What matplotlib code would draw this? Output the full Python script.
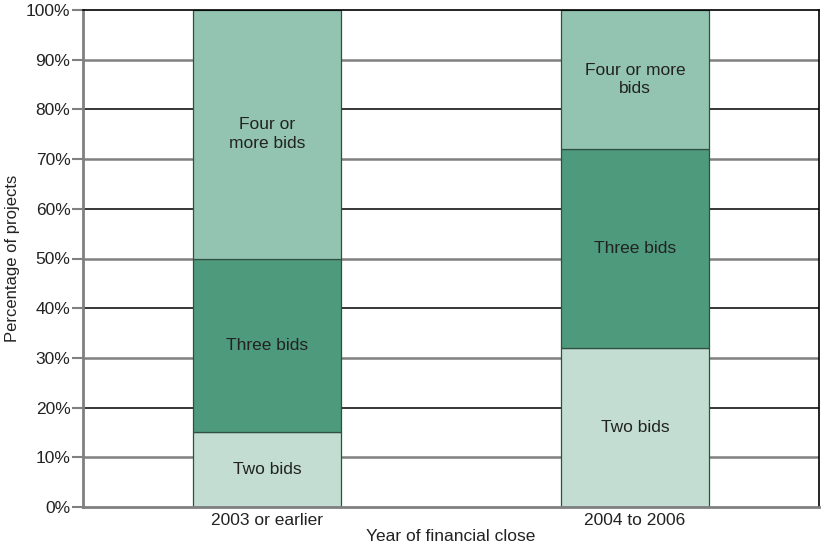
import numpy as np
import matplotlib.pyplot as plt

plt.rcParams['font.family'] = ['Liberation Sans', 'DejaVu Sans']

periods = ['2003 or earlier', '2004 to 2006']
two_bids = [15, 32]
three_bids = [35, 40]
four_bids = [50, 28]
labels = ['Two bids', 'Three bids', 'Four or\nmore bids']
labels_right = ['Two bids', 'Three bids', 'Four or more\nbids']
colors = ['#c3ddd3', '#4e9a7c', '#93c4b1']

fig = plt.figure(figsize=(8.27, 5.46), dpi=100)
ax = fig.add_axes([83 / 827, 1 - 507 / 546, 736 / 827, 497 / 546])

x = np.arange(len(periods))
bottom = np.zeros(len(periods))
series = [two_bids, three_bids, four_bids]

# gridlines alternate black / grey
for v in range(10, 100, 10):
    if v % 20 == 0:
        ax.axhline(v, color='black', lw=1.1, zorder=0)
    else:
        ax.axhline(v, color='#808080', lw=1.8, zorder=0)

for i, vals in enumerate(series):
    vals = np.array(vals)
    ax.bar(x, vals, 0.4, bottom=bottom, color=colors[i], edgecolor='#2f4f43',
           linewidth=0.9, zorder=2)
    for j in range(len(periods)):
        txt = labels[i] if j == 0 else labels_right[i]
        ax.text(x[j], bottom[j] + vals[j] / 2, txt, ha='center', va='center',
                fontsize=12.5, color='#222222', linespacing=1.3, zorder=3)
    bottom += vals

ax.set_xlim(-0.5, 1.5)
ax.set_ylim(0, 100)
ax.set_yticks(range(0, 101, 10))
ax.set_yticklabels([f'{v}%' for v in range(0, 101, 10)], fontsize=12.5, color='#222222')
ax.set_xticks(x)
ax.set_xticklabels(periods, fontsize=12.5, color='#222222')
ax.tick_params(axis='y', length=8, width=1.5, color='#808080', pad=1)
ax.tick_params(axis='x', length=0, pad=4)

ax.spines['left'].set_color('#808080')
ax.spines['left'].set_linewidth(2)
ax.spines['bottom'].set_color('#808080')
ax.spines['bottom'].set_linewidth(2)
ax.spines['top'].set_color('black')
ax.spines['top'].set_linewidth(1.2)
ax.spines['right'].set_color('black')
ax.spines['right'].set_linewidth(1.2)

ax.set_xlabel('Year of financial close', fontsize=12.5, color='#222222', labelpad=1)
ax.set_ylabel('Percentage of projects', fontsize=12, color='#222222', labelpad=4)

fig.savefig('out.png', dpi=100)
